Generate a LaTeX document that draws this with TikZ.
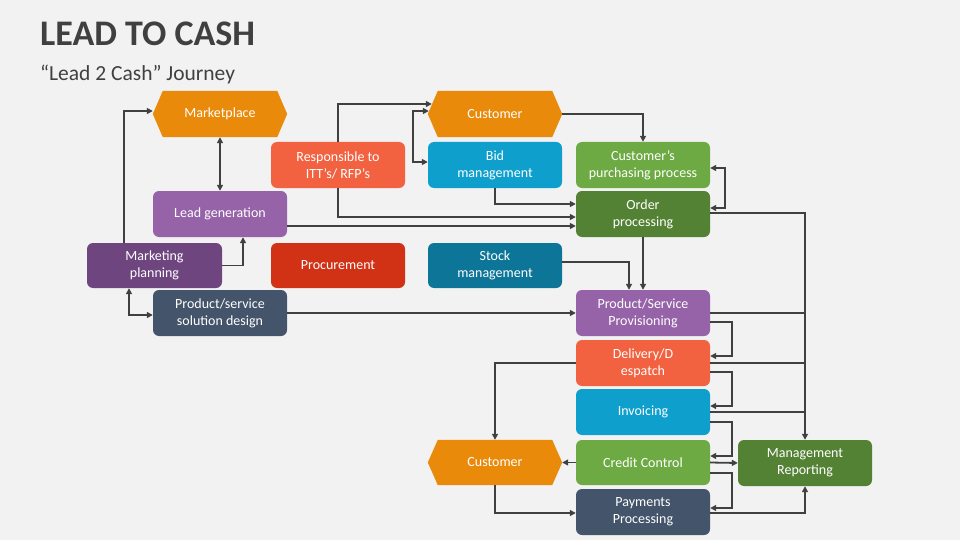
\documentclass[tikz,border=0pt]{standalone}
\usepackage{fontspec}
\setmainfont{Carlito}
\usetikzlibrary{arrows.meta,backgrounds,calc}
\definecolor{bgc}{HTML}{F2F2F2}
\definecolor{linec}{HTML}{404040}
\definecolor{orangeC}{HTML}{EA8A0B}
\definecolor{purpleL}{HTML}{9662A8}
\definecolor{purpleD}{HTML}{6F4580}
\definecolor{slate}{HTML}{44546A}
\definecolor{orangeR}{HTML}{F26140}
\definecolor{redD}{HTML}{D13216}
\definecolor{blueL}{HTML}{0E9FCC}
\definecolor{blueD}{HTML}{0C7598}
\definecolor{greenL}{HTML}{6DAA43}
\definecolor{greenD}{HTML}{548235}
\tikzset{
  box/.style={rectangle, rounded corners=6pt, minimum width=134pt, minimum height=46pt,
    text=white, font=\fontsize{14}{17}\selectfont, align=center, inner sep=0pt, fill=#1},
  hexnode/.style={rectangle, minimum width=134pt, minimum height=46pt,
    text=white, font=\fontsize{14}{17}\selectfont, align=center, inner sep=0pt},
  tip/.tip={Triangle[length=6pt,width=6pt]},
  plain/.style={draw=linec, line width=1.8pt},
  conn/.style={plain, -tip},
  conn2/.style={plain, tip-tip},
}
\newcommand{\hexfill}[2]{%
  \fill[#2] (#1.west) -- ([xshift=10pt]#1.north west) -- ([xshift=-10pt]#1.north east)
    -- (#1.east) -- ([xshift=-10pt]#1.south east) -- ([xshift=10pt]#1.south west) -- cycle;}
\begin{document}
\begin{tikzpicture}[x=1pt,y=-1pt]
\useasboundingbox (0,0) rectangle (960,540);
% titles
\node[anchor=base west, inner sep=0pt, text=linec, font=\fontsize{36}{40}\selectfont\bfseries] (title) at (40,46) {LEAD TO CASH};
\node[anchor=base west, inner sep=0pt, text=linec, font=\fontsize{21.5}{25}\selectfont] (subtitle) at (40,81) {“Lead 2 Cash” Journey};
% nodes
\node[hexnode] (mkt) at (220,114) {Marketplace};
\node[box=purpleL] (lead) at (220,214) {Lead generation};
\node[box=purpleD, minimum width=135pt, minimum height=45pt] (mplan) at (154.5,265.5) {Marketing\\planning};
\node[box=slate] (psd) at (220,313) {Product/service\\solution design};
\node[box=orangeR] (rti) at (338,165) {Responsible to\\ITT’s/ RFP’s};
\node[hexnode] (cust1) at (495,114) {Customer};
\node[box=blueL] (bid) at (495,165) {Bid\\management};
\node[box=redD, minimum height=45pt] (proc) at (338,265.5) {Procurement};
\node[box=blueD, minimum height=45pt] (stock) at (495,265.5) {Stock\\management};
\node[box=greenL] (cpp) at (643,165) {Customer’s\\purchasing process};
\node[box=greenD] (order) at (643,214) {Order\\processing};
\node[box=purpleL] (prov) at (643,313) {Product/Service\\Provisioning};
\node[box=orangeR] (deliv) at (643,363) {Delivery/D\\espatch};
\node[box=blueL] (inv) at (643,412) {Invoicing};
\node[box=greenL, minimum height=45pt] (credit) at (643,462.5) {Credit Control};
\node[hexnode, minimum height=45pt] (cust2) at (495,462.5) {Customer};
\node[box=slate] (pay) at (643,512) {Payments\\Processing};
\node[box=greenD] (mgmt) at (805,463) {Management\\Reporting};
\begin{scope}[on background layer]
  \fill[bgc] (0,0) rectangle (960,540);
  \hexfill{mkt}{orangeC}
  \hexfill{cust1}{orangeC}
  \hexfill{cust2}{orangeC}
\end{scope}
% connectors
\draw[conn] ([xshift=-30.5pt]mplan.north) |- ([yshift=3pt]mkt.west);
\draw[conn2] (mkt.south) -- (lead.north);
\draw[conn] (mplan.east) -| ([xshift=23pt]lead.south);
\draw[conn2] ([xshift=-25.5pt]mplan.south) |- ([yshift=-2pt]psd.west);
\draw[conn] ([yshift=-12pt]lead.east) -- ([yshift=-12pt]order.west);
\draw[conn] (rti.north) |- ([xshift=4pt,yshift=10pt]cust1.west);
\draw[conn] (rti.south) |- ([yshift=-3pt]order.west);
\draw[conn2] ([xshift=1pt,yshift=3pt]cust1.west) -- ++(-16,0) |- ([yshift=3pt]bid.west);
\draw[conn] (bid.south) |- ([yshift=10pt]order.west);
\draw[conn] (cust1.east) -| (cpp.north);
\draw[conn2] ([yshift=-3pt]cpp.east) -- ++(15,0) |- ([yshift=6pt]order.east);
\draw[conn] ([yshift=1pt]order.east) -| (mgmt.north);
\draw[conn] (order.south) -- (prov.north);
\draw[conn] ([yshift=3.5pt]stock.east) -| ([xshift=-14pt]prov.north);
\draw[conn] (psd.east) -- (prov.west);
\draw[plain] (prov.east) -- (prov.east -| mgmt.north);
\draw[conn] ([yshift=-9pt]prov.east) -- ++(22,0) |- ([yshift=7pt]deliv.east);
\draw[plain] (deliv.east) -- (deliv.east -| mgmt.north);
\draw[conn] ([yshift=-9pt]deliv.east) -- ++(22,0) |- ([yshift=6pt]inv.east);
\draw[plain] (inv.east) -- (inv.east -| mgmt.north);
\draw[conn] ([yshift=-10pt]inv.east) -- ++(22,0) |- ([yshift=6.5pt]credit.east);
\draw[conn] (credit.east) -- (mgmt.west);
\draw[conn] ([yshift=-10.5pt]credit.east) -- ++(22,0) |- ([yshift=4pt]pay.east);
\draw[conn] ([yshift=-1pt]pay.east) -| (mgmt.south);
\draw[conn] (credit.west) -- (cust2.east);
\draw[conn] (deliv.west) -| (cust2.north);
\draw[conn] (cust2.south) |- ([yshift=-1pt]pay.west);
\end{tikzpicture}
\end{document}
